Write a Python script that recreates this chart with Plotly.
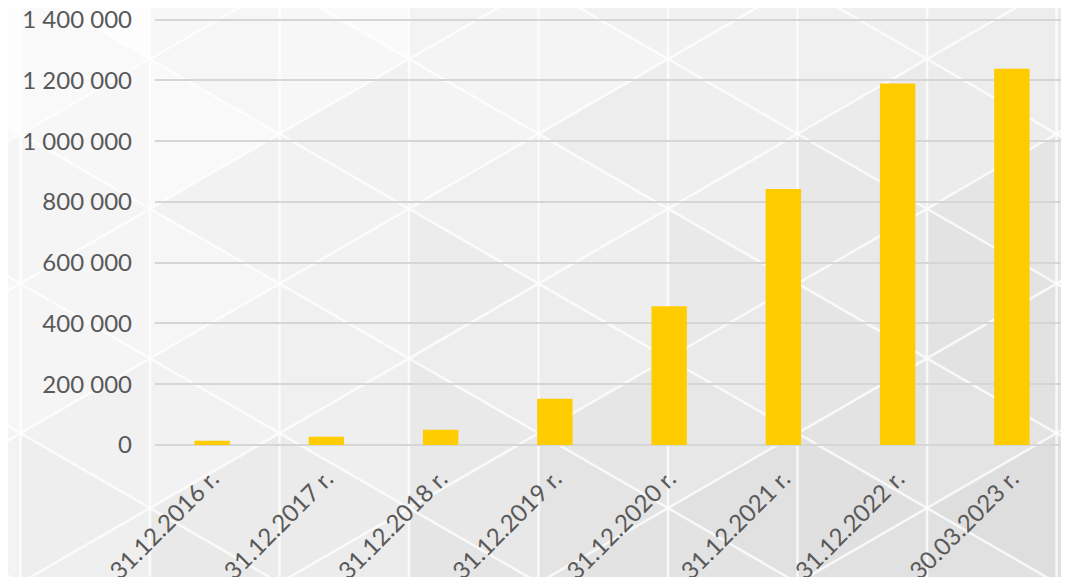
import math
import plotly.graph_objects as go

categories = ["31.12.2016 r.", "31.12.2017 r.", "31.12.2018 r.", "31.12.2019 r.",
              "31.12.2020 r.", "31.12.2021 r.", "31.12.2022 r.", "30.03.2023 r."]
values = [14000, 27000, 50000, 152000, 457000, 843000, 1190000, 1238000]
y_ticks = [0, 200000, 400000, 600000, 800000, 1000000, 1200000, 1400000]
y_tick_labels = ["0", "200 000", "400 000", "600 000", "800 000", "1 000 000", "1 200 000", "1 400 000"]

Y_MAX = 1412000
# the page body adds an 8px offset; figure is sized to fill the rest of the window
OFF = 8
W, H = 1069 - OFF, 577 - OFF
SL, SB = 155, 445                     # screen positions of plot left / zero line
PX_PER_UNIT = (445 - 20) / 1400000    # 1 400 000 sits at screen y=20
PH = Y_MAX * PX_PER_UNIT
ST = SB - PH
ML, MT = SL - OFF, ST - OFF
MB = H - (SB - OFF)
MR = 0
PW = W - ML - MR


def px2paper(x, y):
    return (x - SL) / PW, (SB - y) / PH


# decorative triangular lattice background (screen pixel geometry)
SW, SH = 1069, 577
d = 129.5
L = 2 * d / math.sqrt(3)
x0, y0 = 668.0, 508.0
shapes = []
pattern = [0, 4, -3, 2, -4, 3, -1, 3, -3, 1, 4, -2]
for k in range(-6, 4):
    xl = x0 + d * k
    xr = xl + d
    off = (L / 2) * (k % 2)
    for m in range(-6, 4):
        ya = y0 + off + L * m
        tris = [
            [(xl, ya), (xl, ya + L), (xr, ya + L / 2)],
            [(xr, ya + L / 2), (xr, ya + 1.5 * L), (xl, ya + L)],
        ]
        for t_i, tri in enumerate(tris):
            cx = sum(p[0] for p in tri) / 3
            cy = sum(p[1] for p in tri) / 3
            if cx < -100 or cx > SW + 100 or cy < -100 or cy > SH + 100:
                continue
            lv = 253 - 18 * max(0, min(SW, cx)) / SW - 14 * max(0, min(SH, cy)) / SH
            lv += pattern[(k * 5 + m * 3 + t_i * 7) % len(pattern)] * 0.7
            lv = int(round(max(221, min(253, lv))))
            path = "M " + " L ".join(
                "%.5f,%.5f" % px2paper(px, py) for px, py in tri) + " Z"
            shapes.append(dict(type="path", xref="paper", yref="paper", path=path,
                               fillcolor="rgb(%d,%d,%d)" % (lv, lv, lv),
                               line=dict(width=0), layer="below"))

line_col = "rgba(255,255,255,0.75)"
for k in range(-6, 4):
    xx = x0 + d * k
    if -5 <= xx <= SW + 5:
        a, _ = px2paper(xx, 0)
        shapes.append(dict(type="line", xref="paper", yref="paper", x0=a, x1=a,
                           y0=px2paper(0, SH + 5)[1], y1=px2paper(0, -5)[1],
                           line=dict(color=line_col, width=2.5), layer="below"))
s = 1 / math.sqrt(3)
for m in range(-12, 14):
    yy = y0 + L * m
    for sign in (1, -1):
        xa, xb = -10, SW + 10
        p1 = px2paper(xa, yy + sign * s * (xa - x0))
        p2 = px2paper(xb, yy + sign * s * (xb - x0))
        shapes.append(dict(type="line", xref="paper", yref="paper",
                           x0=p1[0], y0=p1[1], x1=p2[0], y1=p2[1],
                           line=dict(color=line_col, width=2.5), layer="below"))

fig = go.Figure(go.Bar(x=categories, y=values, marker=dict(color="#FFCC00", line=dict(width=0)),
                       width=0.31))

fig.update_layout(
    width=W, height=H,
    margin=dict(l=ML, r=MR, t=MT, b=MB, pad=0, autoexpand=False),
    paper_bgcolor="#f4f4f4",
    plot_bgcolor="rgba(0,0,0,0)",
    font=dict(family="Lato", size=24, color="#595959"),
    showlegend=False,
    shapes=shapes,
    xaxis=dict(range=[-0.5, 7.5], tickangle=-45, showgrid=False, showline=False,
               ticks="", ticklabelstandoff=14, automargin=False),
    yaxis=dict(range=[0, Y_MAX], tickvals=y_ticks, ticktext=y_tick_labels,
               showgrid=True, gridcolor="#d6d6d6", gridwidth=1.5,
               zeroline=True, zerolinecolor="#d6d6d6", zerolinewidth=1.5,
               showline=False, ticks="", ticklabelstandoff=22, automargin=False,
               ticklabeloverflow="allow"),
)

fig.write_html("out.html")
